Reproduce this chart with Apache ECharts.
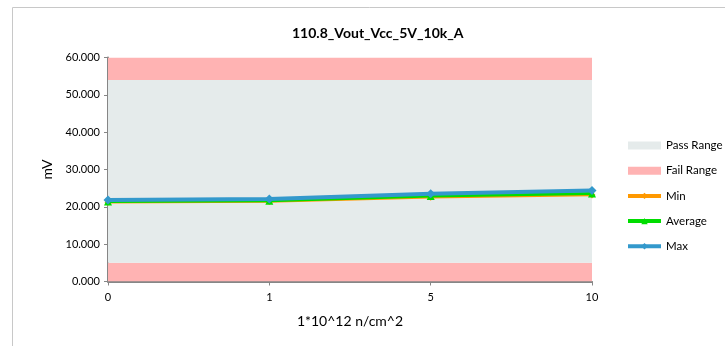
<!DOCTYPE html>
<html><head><meta charset="utf-8">
<script src="https://cdn.jsdelivr.net/npm/echarts@6/dist/echarts.min.js"></script>
<style>html,body{margin:0;padding:0;background:#fff}#c{width:725px;height:346px}</style>
</head><body><div id="c"></div>
<script>
const categories = ['0', '1', '5', '10'];
const minValues = [21.2, 21.4, 22.6, 23.2];
const avgValues = [21.4, 21.6, 22.9, 23.6];
const maxValues = [21.8, 22.1, 23.5, 24.4];
const passLow = 5;
const passHigh = 54;
const axisMax = 60;
const yTicks = [0, 10, 20, 30, 40, 50, 60];

const FONT = 'Lato';
const failLowArr = categories.map(() => passLow);
const passArr = categories.map(() => passHigh - passLow);
const failHighArr = categories.map(() => axisMax - passHigh);

const chart = echarts.init(document.getElementById('c'), null, {renderer: 'canvas'});
const bandSeries = (name, data, color) => ({
  name, type: 'line', stack: 'band', data, symbol: 'none', silent: true,
  itemStyle: {color},
  lineStyle: {width: 0, opacity: 0}, areaStyle: {color, opacity: 1}, z: 1
});
chart.setOption({
  animation: false,
  title: {text: '110.8_Vout_Vcc_5V_10k_A', left: 287, top: 21,
    textStyle: {fontFamily: FONT, fontSize: 14, fontWeight: 'bold', color: '#000'}},
  grid: {left: 108, right: 133, top: 57.5, bottom: 64.5},
  graphic: [
    {type: 'rect', shape: {x: 12.5, y: 7.5, width: 760, height: 400}, style: {fill: 'none', stroke: '#c8c8c8', lineWidth: 1}, z: -10}
  ],
  legend: {
    orient: 'vertical', left: 621, top: 134.5, itemGap: 13.2, itemWidth: 33, itemHeight: 8,
    textStyle: {fontFamily: FONT, fontSize: 11.5, color: '#000'},
    data: [
      {name: 'Pass Range', icon: 'rect'},
      {name: 'Fail Range', icon: 'rect'},
      {name: 'Min', lineStyle: {width: 4}},
      {name: 'Average', lineStyle: {width: 4}},
      {name: 'Max', lineStyle: {width: 4}}
    ]
  },
  xAxis: {
    type: 'category', data: categories, boundaryGap: false,
    name: '1*10^12 n/cm^2', nameLocation: 'middle', nameGap: 33,
    nameTextStyle: {fontFamily: FONT, fontSize: 14, color: '#000'},
    axisLine: {lineStyle: {color: '#868686', width: 2}},
    axisTick: {show: true, length: 4, lineStyle: {color: '#868686'}},
    axisLabel: {fontFamily: FONT, fontSize: 11, color: '#000', margin: 10},
    splitLine: {show: false}
  },
  yAxis: {
    type: 'value', min: yTicks[0], max: yTicks[yTicks.length - 1], interval: 10,
    name: 'mV', nameLocation: 'middle', nameGap: 54,
    nameTextStyle: {fontFamily: FONT, fontSize: 14, color: '#000'},
    axisLine: {show: true, lineStyle: {color: '#868686', width: 2}},
    axisTick: {show: true, length: 4, lineStyle: {color: '#868686'}},
    axisLabel: {fontFamily: FONT, fontSize: 11, color: '#000', margin: 8,
      formatter: v => v.toFixed(3)},
    splitLine: {show: false}
  },
  series: [
    bandSeries('Fail Range', failLowArr, '#ffb3b3'),
    bandSeries('Pass Range', passArr, '#e5ebeb'),
    bandSeries('Fail Range', failHighArr, '#ffb3b3'),
    {name: 'Min', type: 'line', data: minValues, symbol: 'diamond', symbolSize: 7,
      itemStyle: {color: '#ff9900'}, lineStyle: {width: 2.5, color: '#ff9900'}, z: 3},
    {name: 'Average', type: 'line', data: avgValues, symbol: 'triangle', symbolSize: 8,
      itemStyle: {color: '#00dd00'}, lineStyle: {width: 3, color: '#00dd00'}, z: 4},
    {name: 'Max', type: 'line', data: maxValues, symbol: 'diamond', symbolSize: 9,
      itemStyle: {color: '#3399cc'}, lineStyle: {width: 4, color: '#3399cc'}, z: 5}
  ]
});
</script></body></html>
